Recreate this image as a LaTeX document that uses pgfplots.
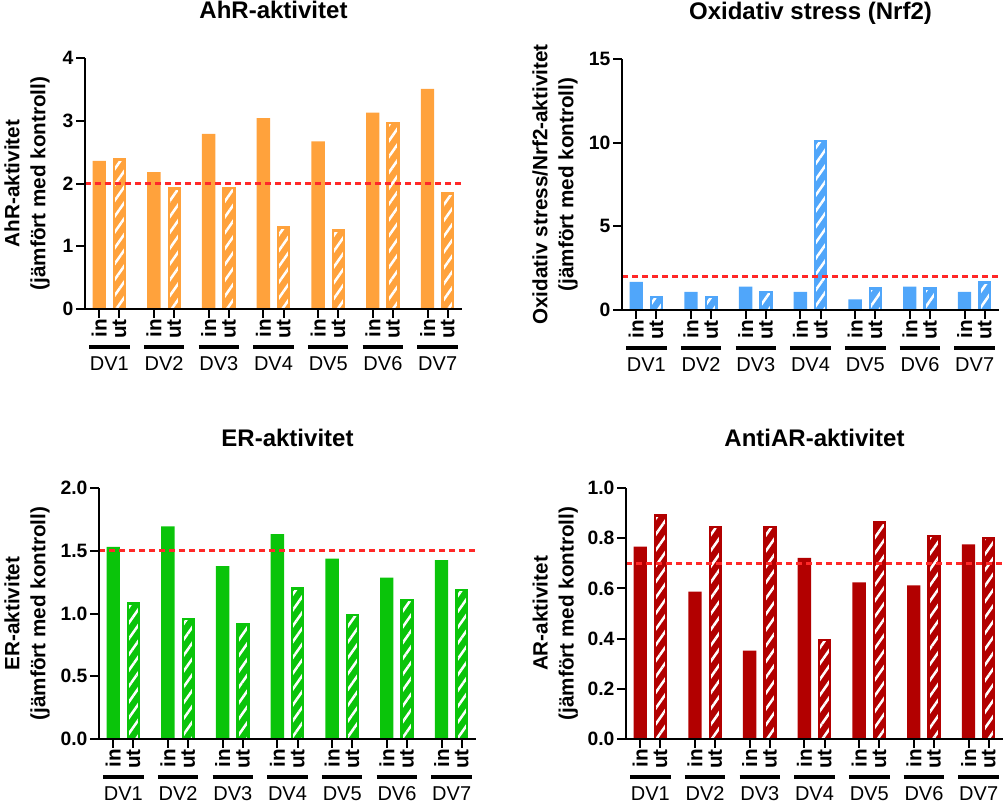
\documentclass[border=0pt]{standalone}
\usepackage{pgfplots}
\pgfplotsset{compat=1.18}
\usepackage{fontspec}
\setmainfont{Liberation Sans}
\usetikzlibrary{patterns.meta}

\definecolor{corange}{RGB}{255,162,60}
\definecolor{cblue}{RGB}{80,166,250}
\definecolor{cgreen}{RGB}{10,196,10}
\definecolor{cred}{RGB}{178,0,0}
\definecolor{cdash}{RGB}{255,40,40}

\pgfplotsset{
  panel/.style={
    scale only axis, width=282.75pt, height=188.25pt,
    anchor=south west,
    axis lines*=left, axis on top, clip=false,
    axis line style={line width=1.5pt, black, -},
    tick align=outside, major tick length=6.5pt,
    tick style={line width=1.5pt, black},
    xmin=-0.7, xmax=17.9, ymin=0,
    xtick={0,1,2.7,3.7,5.4,6.4,8.1,9.1,10.8,11.8,13.5,14.5,16.2,17.2},
    xticklabels={in,ut,in,ut,in,ut,in,ut,in,ut,in,ut,in,ut},
    xticklabel style={rotate=90, anchor=east, inner sep=1pt, font=\bfseries\fontsize{15.5}{18}\selectfont},
    yticklabel style={inner sep=2pt, font=\bfseries\fontsize{14.5}{17}\selectfont},
    /pgf/number format/assume math mode=true,
    ylabel style={align=center, anchor=south, inner sep=0pt, font=\bfseries\fontsize{15.5}{19.5}\selectfont},
    title style={at={(0.5,1)}, anchor=base, font=\bfseries\fontsize{18}{22}\selectfont},
  },
  solidbar/.style={ybar, bar width=10pt, bar shift=0pt, fill=#1, draw=none},
  hatchbar/.style={ybar, bar width=8.2pt, bar shift=0pt, draw=#1, line width=1.8pt,
     preaction={fill=#1}, pattern={Lines[angle=55,distance=6.8pt,line width=1.9pt]}, pattern color=white},
  refline/.style={cdash, line width=2pt, dash pattern=on 4.5pt off 3pt, forget plot},
}

\newcommand{\grp}[4]{%
  \draw[line width=3pt] ([yshift=-28.5pt]axis cs:#1,0) -- ([yshift=-28.5pt]axis cs:#2,0);
  \node[anchor=base, inner sep=0pt, font=\fontsize{15}{17}\selectfont] at ([yshift=-45.75pt]axis cs:#3,0) {#4};
}
\newcommand{\groups}{%
  \grp{-0.5}{1.5}{0.5}{DV1}
  \grp{2.2}{4.2}{3.2}{DV2}
  \grp{4.9}{6.9}{5.9}{DV3}
  \grp{7.6}{9.6}{8.6}{DV4}
  \grp{10.3}{12.3}{11.3}{DV5}
  \grp{13.0}{15.0}{14.0}{DV6}
  \grp{15.7}{17.7}{16.7}{DV7}
}

\begin{document}
\begin{tikzpicture}
\path[use as bounding box] (0,0) rectangle (755.25pt,-605.25pt);

% ---- AhR ----
\begin{axis}[panel, at={(63.75pt,-231.75pt)}, ymax=4, ytick={0,1,2,3,4},
  title={AhR-aktivitet}, title style={yshift=24pt},
  ylabel={AhR-aktivitet\\(jämfört med kontroll)},
  ylabel style={at={(axis description cs:-0.093,0.5)}}]
\addplot[solidbar=corange] coordinates {(0,2.36) (2.7,2.18) (5.4,2.79) (8.1,3.04) (10.8,2.67) (13.5,3.13) (16.2,3.51)};
\addplot[hatchbar=corange] coordinates {(1,2.38) (3.7,1.92) (6.4,1.93) (9.1,1.30) (11.8,1.25) (14.5,2.96) (17.2,1.84)};
\addplot[refline] coordinates {(-0.7,2) (17.9,2)};
\groups
\end{axis}

% ---- Nrf2 ----
\begin{axis}[panel, at={(466.5pt,-232.5pt)}, ymax=15, ytick={0,5,10,15},
  title={Oxidativ stress (Nrf2)}, title style={yshift=24pt},
  ylabel={Oxidativ stress/Nrf2-aktivitet\\(jämfört med kontroll)},
  ylabel style={at={(axis description cs:-0.117,0.5)}}]
\addplot[solidbar=cblue] coordinates {(0,1.68) (2.7,1.09) (5.4,1.39) (8.1,1.09) (10.8,0.63) (13.5,1.39) (16.2,1.09)};
\addplot[hatchbar=cblue] coordinates {(1,0.76) (3.7,0.76) (6.4,1.06) (9.1,10.1) (11.8,1.28) (14.5,1.28) (17.2,1.65)};
\addplot[refline] coordinates {(-0.7,2) (17.9,2)};
\groups
\end{axis}

% ---- ER ----
\begin{axis}[panel, at={(74.25pt,-554.25pt)}, ymax=2, ytick={0,0.5,1,1.5,2},
  yticklabel style={/pgf/number format/.cd, fixed, fixed zerofill, precision=1},
  title={ER-aktivitet}, title style={yshift=25pt},
  ylabel={ER-aktivitet\\(jämfört med kontroll)},
  ylabel style={at={(axis description cs:-0.130,0.5)}}]
\addplot[solidbar=cgreen] coordinates {(0,1.53) (2.7,1.695) (5.4,1.377) (8.1,1.632) (10.8,1.438) (13.5,1.285) (16.2,1.425)};
\addplot[hatchbar=cgreen] coordinates {(1,1.08) (3.7,0.955) (6.4,0.912) (9.1,1.20) (11.8,0.99) (14.5,1.11) (17.2,1.185)};
\addplot[refline] coordinates {(-0.7,1.5) (17.9,1.5)};
\groups
\end{axis}

% ---- AntiAR ----
\begin{axis}[panel, at={(469.5pt,-554.25pt)}, ymax=1, ytick={0,0.2,0.4,0.6,0.8,1},
  yticklabel style={/pgf/number format/.cd, fixed, fixed zerofill, precision=1},
  title={AntiAR-aktivitet}, title style={yshift=25pt},
  ylabel={AR-aktivitet\\(jämfört med kontroll)},
  ylabel style={at={(axis description cs:-0.127,0.5)}}]
\addplot[solidbar=cred] coordinates {(0,0.766) (2.7,0.587) (5.4,0.352) (8.1,0.722) (10.8,0.624) (13.5,0.612) (16.2,0.775)};
\addplot[hatchbar=cred] coordinates {(1,0.89) (3.7,0.845) (6.4,0.845) (9.1,0.394) (11.8,0.862) (14.5,0.809) (17.2,0.80)};
\addplot[refline] coordinates {(-0.7,0.7) (17.9,0.7)};
\groups
\end{axis}
\end{tikzpicture}
\end{document}
